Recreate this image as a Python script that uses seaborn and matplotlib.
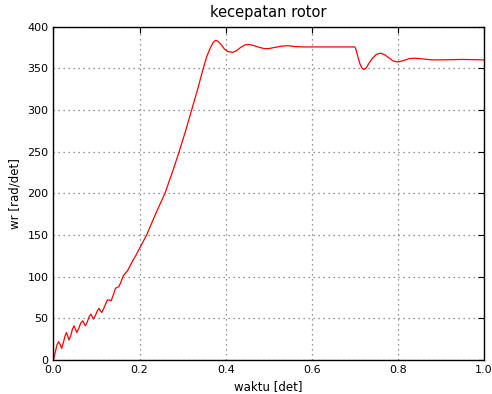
import pandas as pd
import seaborn as sns
import matplotlib.pyplot as plt

# rotor speed
t = [0.000, 0.004, 0.008, 0.012, 0.016, 0.019, 0.023, 0.027, 0.030, 0.033,
     0.036, 0.040, 0.044, 0.048, 0.051, 0.054, 0.058, 0.063, 0.068, 0.071,
     0.074, 0.078, 0.083, 0.087, 0.090, 0.093, 0.097, 0.102, 0.106, 0.109,
     0.112, 0.116, 0.121, 0.125, 0.130, 0.134, 0.139, 0.144, 0.148, 0.152,
     0.157, 0.162, 0.167, 0.172, 0.178, 0.184, 0.192, 0.200, 0.2165, 0.237,
     0.259, 0.276, 0.292, 0.307, 0.321, 0.335, 0.348, 0.356, 0.364, 0.371,
     0.377, 0.383, 0.390, 0.397, 0.405, 0.416, 0.425, 0.435, 0.445, 0.455,
     0.466, 0.478, 0.490, 0.500, 0.515, 0.530, 0.545, 0.560, 0.580, 0.600,
     0.650, 0.700, 0.703, 0.707, 0.712, 0.717, 0.721, 0.726, 0.733, 0.741,
     0.750, 0.760, 0.770, 0.780, 0.790, 0.800, 0.812, 0.826, 0.840, 0.860,
     0.880, 0.900, 0.950, 1.000]
wr = [0, 9, 18, 22, 18, 14, 21, 29, 33, 29,
      24, 29, 37, 41, 37, 33, 37, 44, 47, 44,
      41, 45, 52, 55, 52, 49, 53, 59, 62, 59,
      57, 61, 67, 72, 72, 71, 78, 86, 87, 88,
      94, 101, 104, 107, 113, 119, 126, 134, 150, 175,
      200, 225, 250, 275, 300, 325, 350, 364, 374, 381,
      383.5, 382, 378, 373, 370, 369, 371, 375, 378, 378.5,
      377, 375, 373.5, 373.5, 375, 376.5, 377, 376, 375.5, 375.5,
      375.5, 375.5, 372, 364, 355, 350, 348.5, 350, 356, 362,
      366.5, 368, 366, 362, 358.5, 357.5, 359, 361.5, 362, 361,
      360, 360, 360.5, 360]

df = pd.DataFrame({"waktu": t, "wr": wr})

sns.set_style("white")
plt.rcParams["font.family"] = ["DejaVu Sans"]
plt.rcParams["text.color"] = "black"
plt.rcParams["axes.labelcolor"] = "black"

fig = plt.figure(figsize=(4.92, 3.94), dpi=100)
ax = fig.add_axes([0.1087, 0.0863, 0.875, 0.8464])
sns.lineplot(data=df, x="waktu", y="wr", color="red", linewidth=0.9, ax=ax, sort=False)

ax.set_xlim(0, 1.0)
ax.set_ylim(0, 400)
ax.set_xticks([0.0, 0.2, 0.4, 0.6, 0.8, 1.0])
ax.set_yticks(range(0, 401, 50))
ax.tick_params(labelsize=8, direction="in", top=True, right=True, length=4, width=0.8,
               colors="black")
ax.grid(True, linestyle=(0, (1, 3)), color="0.45", linewidth=0.9)
for s in ax.spines.values():
    s.set_color("black")
    s.set_linewidth(1.0)

ax.set_title("kecepatan rotor", fontsize=10.5, color="black", pad=7)
ax.set_xlabel("waktu [det]", fontsize=8.5)
ax.set_ylabel("wr [rad/det]", fontsize=8.5)

fig.savefig("out.png", dpi=100)
